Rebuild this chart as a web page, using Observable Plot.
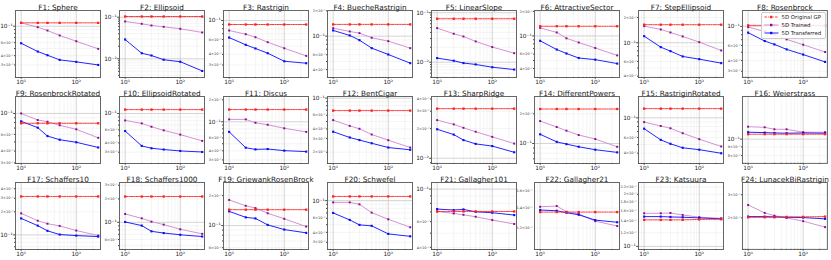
<!DOCTYPE html>
<html><head><meta charset="utf-8">
<script src="https://cdn.jsdelivr.net/npm/d3@7"></script>
<script src="https://cdn.jsdelivr.net/npm/@observablehq/plot@0.6"></script>
<style>
body{margin:0;background:#fff;font-family:"DejaVu Sans",sans-serif;}
#wrap{position:relative;width:831px;height:260px;overflow:hidden;}
.panel{position:absolute;}
.panel svg{overflow:visible;}
#legend{position:absolute;left:761px;top:11.5px;width:63px;height:25px;border:0.6px solid #ccc;border-radius:2px;background:rgba(255,255,255,0.85);font-size:5.4px;color:#222;}
#legend .row{position:absolute;left:2px;height:8px;display:flex;align-items:center;}
#legend svg{width:15px;height:6px;margin-right:2.5px;}
</style></head><body><div id="wrap"></div>
<script>
const budgets = [10, 20, 30, 50, 100, 250];
const titles = ["F1: Sphere","F2: Ellipsoid","F3: Rastrigin","F4: BuecheRastrigin","F5: LinearSlope","F6: AttractiveSector","F7: StepEllipsoid","F8: Rosenbrock",
"F9: RosenbrockRotated","F10: EllipsoidRotated","F11: Discus","F12: BentCigar","F13: SharpRidge","F14: DifferentPowers","F15: RastriginRotated","F16: Weierstrass",
"F17: Schaffers10","F18: Schaffers1000","F19: GriewankRosenBrock","F20: Schwefel","F21: Gallagher101","F22: Gallagher21","F23: Katsuura","F24: LunacekBiRastrigin"];
const originalGP = [
[0.111,0.111,0.111,0.111,0.111,0.111],[0.104,0.104,0.104,0.104,0.104,0.104],[0.0897,0.0897,0.0897,0.0897,0.0897,0.0897],[0.138,0.138,0.138,0.138,0.138,0.138],
[0.0756,0.0756,0.0756,0.0756,0.0756,0.0756],[0.1315,0.1315,0.1315,0.1315,0.1315,0.1315],[0.164,0.164,0.164,0.164,0.164,0.164],[0.1027,0.1027,0.1027,0.1027,0.1027,0.1027],
[0.0787,0.0787,0.0787,0.0787,0.0787,0.0787],[0.113,0.113,0.113,0.113,0.113,0.113],[0.147,0.147,0.147,0.147,0.147,0.147],[0.069,0.069,0.069,0.069,0.069,0.069],
[0.0319,0.0319,0.0319,0.0319,0.0319,0.0319],[0.224,0.224,0.224,0.224,0.224,0.224],[0.127,0.127,0.127,0.127,0.127,0.127],[0.1069,0.1069,0.1069,0.1069,0.1069,0.1069],
[0.317,0.317,0.317,0.317,0.317,0.317],[0.215,0.215,0.215,0.215,0.215,0.215],[0.1445,0.1445,0.1445,0.1445,0.1445,0.1445],[0.113,0.113,0.113,0.113,0.113,0.113],
[0.0704,0.0704,0.0704,0.0704,0.0704,0.0704],[0.1358,0.1358,0.1358,0.1358,0.1358,0.1358],[0.1424,0.1424,0.1424,0.1424,0.1432,0.1436],[0.202,0.202,0.202,0.2035,0.2035,0.2045]];
const trained5D = [
[0.111,0.097,0.0875,0.075,0.0627,0.0495],[0.079,0.0694,0.0632,0.0588,0.0527,0.043],[0.0763,0.069,0.0636,0.0556,0.0472,0.0384],[0.1245,0.1137,0.1086,0.0957,0.0872,0.072],
[0.0488,0.0376,0.0331,0.0263,0.0202,0.0152],[0.1256,0.1104,0.0936,0.0832,0.0712,0.0578],[0.1577,0.144,0.1326,0.1189,0.1017,0.081],[0.098,0.0875,0.0807,0.0706,0.0612,0.0503],
[0.1,0.0852,0.0818,0.075,0.068,0.0553],[0.0807,0.0736,0.0663,0.0593,0.0519,0.0427],[0.1078,0.1078,0.097,0.091,0.0814,0.0727],[0.052,0.0438,0.0402,0.0339,0.0286,0.023],
[0.0244,0.0221,0.0204,0.0186,0.0165,0.0141],[0.169,0.147,0.135,0.122,0.111,0.0927],[0.0896,0.081,0.0763,0.0671,0.0575,0.0476],[0.1183,0.1173,0.1142,0.1142,0.1098,0.1098],
[0.191,0.153,0.14,0.131,0.114,0.098],[0.128,0.1125,0.102,0.0934,0.0813,0.071],[0.181,0.158,0.15,0.133,0.117,0.0977],[0.0952,0.0952,0.09,0.0708,0.0584,0.0464],
[0.0704,0.0682,0.0668,0.0648,0.0615,0.0578],[0.1415,0.1423,0.1361,0.1338,0.1266,0.1219],[0.1554,0.1554,0.156,0.152,0.1474,0.1454],[0.2508,0.2181,0.2078,0.2,0.1887,0.17]];
const transferred5D = [
[0.0589,0.0455,0.0406,0.0351,0.033,0.030],[0.0291,0.0136,0.012,0.0095,0.0085,0.0051],[0.063,0.0518,0.0469,0.0413,0.0332,0.0315],[0.117,0.102,0.0896,0.072,0.0605,0.0477],
[0.0121,0.0107,0.0096,0.009,0.0079,0.0071],[0.0872,0.0682,0.061,0.0537,0.0513,0.0459],[0.1198,0.0887,0.0795,0.0687,0.0638,0.0572],[0.0845,0.0675,0.0617,0.054,0.047,0.0386],
[0.0825,0.0708,0.0577,0.0528,0.0496,0.0437],[0.058,0.0365,0.0339,0.0326,0.0312,0.0302],[0.0727,0.0441,0.0418,0.0423,0.0402,0.039],[0.0368,0.031,0.0287,0.0261,0.023,0.0215],
[0.0197,0.0174,0.0153,0.014,0.0133,0.0115],[0.124,0.104,0.0986,0.0927,0.0865,0.0813],[0.0755,0.0565,0.051,0.046,0.0438,0.0399],[0.1098,0.1092,0.1087,0.1083,0.1087,0.1083],
[0.164,0.132,0.113,0.101,0.098,0.095],[0.101,0.0907,0.0765,0.0727,0.069,0.0656],[0.139,0.121,0.118,0.1016,0.0912,0.0845],[0.0702,0.0573,0.0497,0.0483,0.0383,0.0357],
[0.0731,0.072,0.0727,0.07,0.069,0.0665],[0.138,0.1372,0.1351,0.133,0.1276,0.1255],[0.1487,0.1487,0.148,0.1474,0.1462,0.1442],[0.2045,0.2045,0.2035,0.202,0.201,0.1966]];
const yRanges = [
[0.0203,0.163],[0.00355,0.145],[0.0214,0.131],[0.0322,0.202],[0.0049,0.111],[0.031,0.205],[0.0386,0.242],[0.0255,0.153],
[0.0296,0.151],[0.0211,0.170],[0.0268,0.222],[0.0143,0.105],[0.00885,0.0424],[0.0627,0.3],[0.0306,0.174],[0.072,0.178],
[0.0645,0.482],[0.0446,0.326],[0.0575,0.271],[0.0244,0.169],[0.0387,0.111],[0.1016,0.1708],[0.096,0.234],[0.115,0.372]];
const yLabelTicks = [
[0.02,0.03,0.04,0.06,0.1],[0.01,0.1],[0.03,0.04,0.06,0.1],[0.04,0.06,0.1,0.2],[0.01,0.1],[0.04,0.06,0.1,0.2],[0.04,0.06,0.1,0.2],[0.03,0.04,0.06,0.1],
[0.03,0.04,0.06,0.1],[0.02,0.03,0.04,0.06,0.1],[0.03,0.04,0.06,0.1,0.2],[0.02,0.03,0.04,0.06,0.1],[0.01,0.02,0.03,0.04],[0.1,0.2],[0.04,0.06,0.1],[0.08,0.09,0.1],
[0.1,0.2,0.3,0.4],[0.06,0.1,0.2,0.3],[0.06,0.1,0.2],[0.03,0.04,0.06,0.1],[0.04,0.06,0.1],[0.12,0.14,0.16],[0.1,0.12,0.14,0.16,0.18,0.2,0.22],[0.2,0.3]];

const xTicks = [10, 100];
const sup = n => String(n).replace(/-/g, "⁻").replace(/\d/g, d => "⁰¹²³⁴⁵⁶⁷⁸⁹"[d]);
function expOf(v) { return Math.floor(Math.log10(v) + 1e-9); }
function isPow(v) { const e = expOf(v); return Math.abs(v / 10 ** e - 1) < 1e-6; }
function fmt(v) {
  const e = expOf(v); const m = +(v / 10 ** e).toFixed(2);
  return m === 1 ? `10${sup(e)}` : `${m}×10${sup(e)}`;
}
function minorTicks([lo, hi]) {
  const out = [];
  for (let e = expOf(lo) - 1; e <= expOf(hi) + 1; e++)
    for (let k = 1; k <= 9; k++) { const v = k * 10 ** e; if (v >= lo && v <= hi) out.push(+v.toPrecision(6)); }
  return out;
}
const xMinor = minorTicks([7.9, 275]).filter(v => !xTicks.includes(v));

const wrap = document.getElementById("wrap");
const colW = 103.875, rowTop = [0, 85.5, 171.5];
const C_RED = "#ff2020", C_TR_LINE = "#cf86cf", C_TR_DOT = "#8a0a8a", C_BLUE = "#0a0aff";

for (let i = 0; i < 24; i++) {
  const dom = yRanges[i];
  const rows = s => budgets.map((b, j) => ({x: b, y: s[j]}));
  const gp = rows(originalGP[i]), tr = rows(trained5D[i]), tf = rows(transferred5D[i]);
  const allY = minorTicks(dom);
  const labeled = yLabelTicks[i].filter(v => v >= dom[0] && v <= dom[1]);
  const majorY = allY.filter(isPow);
  const minorY = allY.filter(v => !isPow(v));
  const majLab = labeled.filter(isPow), minLab = labeled.filter(v => !isPow(v));
  const extraGrid = labeled.filter(v => !allY.includes(v));
  const chart = Plot.plot({
    width: 104, height: 87, marginTop: 10, marginBottom: 10, marginLeft: 15, marginRight: 4,
    x: {type: "log", domain: [7.9, 275], label: null},
    y: {type: "log", domain: dom, label: null},
    style: {fontFamily: "DejaVu Sans, sans-serif", background: "transparent", overflow: "visible", color: "#222"},
    marks: [
      Plot.ruleY(minorY.concat(extraGrid), {stroke: "#ebebeb", strokeWidth: 0.5}),
      Plot.ruleX(xMinor, {stroke: "#ebebeb", strokeWidth: 0.5}),
      Plot.ruleY(majorY, {stroke: "#c2c2c2", strokeWidth: 0.7}),
      Plot.ruleX(xTicks, {stroke: "#c2c2c2", strokeWidth: 0.7}),
      Plot.line(tr, {x: "x", y: "y", stroke: C_TR_LINE, strokeWidth: 0.9}),
      Plot.dot(tr, {x: "x", y: "y", fill: C_TR_DOT, symbol: "square", r: 1.1}),
      Plot.line(tf, {x: "x", y: "y", stroke: C_BLUE, strokeWidth: 0.9}),
      Plot.dot(tf, {x: "x", y: "y", fill: C_BLUE, symbol: "square", r: 1.2}),
      Plot.line(gp, {x: "x", y: "y", stroke: C_RED, strokeWidth: 0.9, strokeDasharray: "2.5,1,0.8,1"}),
      Plot.dot(gp, {x: "x", y: "y", fill: C_RED, symbol: "square", r: 1.3}),
      Plot.frame({stroke: "#666", strokeWidth: 1}),
      Plot.axisX(xTicks, {tickFormat: v => `10${sup(Math.round(Math.log10(v)))}`, fontSize: 5.8, tickSize: 1.8, tickPadding: 0.5, stroke: "#444"}),
      Plot.axisX(xMinor, {tickFormat: () => "", tickSize: 1, stroke: "#444"}),
      Plot.axisY(minorY, {tickFormat: () => "", tickSize: 1, stroke: "#444"}),
      Plot.axisY(majLab, {tickFormat: fmt, fontSize: 5.8, tickSize: 1.8, tickPadding: 0.8, stroke: "#444"}),
      Plot.text(minLab, {y: d => d, frameAnchor: "left", textAnchor: "end", dx: -1.8, fontSize: 3.5, fill: "#333", text: d => fmt(d)}),
      Plot.text([titles[i]], {frameAnchor: "top", dy: -5.2, fontSize: 7.3, fill: "#222"})
    ]
  });
  const div = document.createElement("div");
  div.className = "panel";
  div.style.left = (i % 8) * colW + "px";
  div.style.top = rowTop[Math.floor(i / 8)] + "px";
  div.appendChild(chart);
  wrap.appendChild(div);
}

const legendItems = [
  {label: "5D Original GP", line: C_RED, dot: C_RED, dash: "2.5,1,0.8,1"},
  {label: "5D Trained", line: C_TR_LINE, dot: C_TR_DOT, dash: null},
  {label: "5D Transferred", line: C_BLUE, dot: C_BLUE, dash: null}
];
const lg = document.createElement("div");
lg.id = "legend";
legendItems.forEach((it, k) => {
  const r = document.createElement("div");
  r.className = "row";
  r.style.top = (0.5 + k * 8.2) + "px";
  r.innerHTML = `<svg viewBox="0 0 15 6"><line x1="0.5" y1="3" x2="14.5" y2="3" stroke="${it.line}" stroke-width="0.9" ${it.dash ? `stroke-dasharray="${it.dash}"` : ""}/><rect x="6" y="1.8" width="2.4" height="2.4" fill="${it.dot}"/></svg><span>${it.label}</span>`;
  lg.appendChild(r);
});
wrap.appendChild(lg);
</script></body></html>
